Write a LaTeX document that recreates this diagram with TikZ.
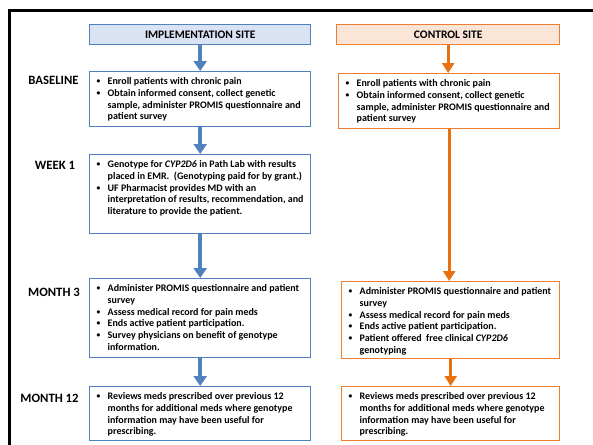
\documentclass[tikz,border=0pt]{standalone}
\usepackage{fontspec}
\usepackage{graphicx}
\setmainfont{Carlito}
\usetikzlibrary{arrows.meta}
\definecolor{iblue}{HTML}{4F81BD}
\definecolor{ifill}{HTML}{DAE3F3}
\definecolor{corange}{HTML}{ED7D31}
\definecolor{cfill}{HTML}{FBE5D6}
\definecolor{carrow}{HTML}{E8700F}
\newcommand{\bul}{\par\hangindent=11pt\hangafter=1\noindent\strut\makebox[11pt][l]{\raisebox{1pt}{\scalebox{0.75}{\textbullet}}}}
\newcommand{\boxtext}[3]{\parbox[t][#2][t]{#1}{\fontsize{10}{11.7}\selectfont\bfseries\raggedright #3}}
\tikzset{
  ibox/.style={draw=iblue, line width=1.4pt, fill=white, inner xsep=7pt, inner ysep=5pt, anchor=north west},
  cbox/.style={draw=corange, line width=1.4pt, fill=white, inner xsep=7pt, inner ysep=5pt, anchor=north west},
  ihead/.style={draw=iblue, line width=1.4pt, fill=ifill, anchor=north west, minimum height=20pt, inner sep=0pt, font=\fontsize{11.5}{13}\selectfont\bfseries},
  chead/.style={draw=corange, line width=1.4pt, fill=cfill, anchor=north west, minimum height=20pt, inner sep=0pt, font=\fontsize{11.5}{13}\selectfont\bfseries},
  barrow/.style={draw=iblue, line width=3.5pt, -{Triangle[width=13pt,length=10pt]}},
  oarrow/.style={draw=carrow, line width=3pt, -{Triangle[width=12pt,length=10pt]}},
  lab/.style={font=\fontsize{12.7}{14}\selectfont\bfseries, inner sep=0pt}
}
\begin{document}
\begin{tikzpicture}[x=1pt,y=-1pt]
\useasboundingbox (0,0) rectangle (593,444);
\draw[line width=3pt] (9.5,446) -- (9.5,11) -- (595,11);
% headers
\node[ihead, minimum width=221pt] (ih) at (89,24) {IMPLEMENTATION SITE};
\node[chead, minimum width=223pt] (ch) at (336,24) {CONTROL SITE};
% implementation boxes
\node[ibox] (ib) at (89,71) {\boxtext{207pt}{45pt}{%
\bul Enroll patients with chronic pain
\bul Obtain informed consent, collect genetic\newline sample, administer PROMIS questionnaire and\newline patient survey}};
\node[ibox] (iw) at (89,154) {\boxtext{207pt}{69pt}{%
\bul Genotype for \textit{CYP2D6} in Path Lab with results\newline placed in EMR.\ \ (Genotyping paid for by grant.)
\bul UF Pharmacist provides MD with an\newline interpretation of results, recommendation, and\newline literature to provide the patient.}};
\node[ibox] (im) at (89,278) {\boxtext{207pt}{69pt}{%
\bul Administer PROMIS questionnaire and patient\newline survey
\bul Assess medical record for pain meds
\bul Ends active patient participation.
\bul Survey physicians on benefit of genotype\newline information.}};
\node[ibox] (iy) at (89,386) {\boxtext{207pt}{44pt}{%
\bul Reviews meds prescribed over previous 12\newline months for additional meds where genotype\newline information may have been useful for\newline prescribing.}};
% control boxes
\node[cbox] (cb) at (338,73) {\boxtext{207pt}{45pt}{%
\bul Enroll patients with chronic pain
\bul Obtain informed consent, collect genetic\newline sample, administer PROMIS questionnaire and\newline patient survey}};
\node[cbox] (cm) at (341,281) {\boxtext{204pt}{67pt}{%
\bul Administer PROMIS questionnaire and patient\newline survey
\bul Assess medical record for pain meds
\bul Ends active patient participation.
\bul Patient offered\ \ free clinical \textit{CYP2D6}\newline genotyping}};
\node[cbox] (cy) at (341,386) {\boxtext{204pt}{44pt}{%
\bul Reviews meds prescribed over previous 12\newline months for additional meds where genotype\newline information may have been useful for\newline prescribing.}};
% labels
\node[lab] (lb) at (53.5,80) {BASELINE};
\node[lab] (lw) at (55,165) {WEEK 1};
\node[lab] (lm) at (54,292) {MONTH 3};
\node[lab] (ly) at (49.5,398) {MONTH 12};
% arrows
\draw[barrow] (ih.south) -- (ib.north);
\draw[barrow] (ib.south) -- (iw.north);
\draw[barrow] (iw.south) -- (im.north);
\draw[barrow] (im.south) -- (iy.north);
\draw[oarrow] (ch.south) -- (ch.south |- cb.north);
\draw[oarrow] (cb.south) -- (cb.south |- cm.north);
\draw[oarrow] (cm.south) -- (cy.north);
\end{tikzpicture}
\end{document}
